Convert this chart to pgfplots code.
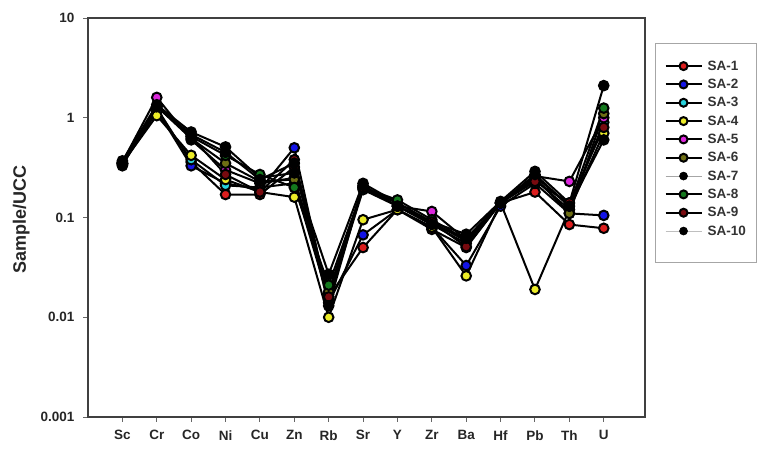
\documentclass[border=0pt]{standalone}
\usepackage{pgfplots}
\pgfplotsset{compat=1.18}
\usepackage{pgfplotstable}
\usepackage{fontspec}
\setmainfont{Liberation Sans}
\definecolor{olivec}{RGB}{110,110,20}
\definecolor{darkredc}{RGB}{120,10,15}
\definecolor{greenc}{RGB}{20,120,30}
\definecolor{cyanc}{RGB}{40,210,220}
\definecolor{yellowc}{RGB}{235,235,40}
\definecolor{magc}{RGB}{220,40,220}
\definecolor{redc}{RGB}{220,30,30}
\definecolor{bluec}{RGB}{20,20,230}
\pgfplotstableread{
x  s1    s2    s3    s4    s5    s6    s7    s8    s9    s10
0  0.35  0.35  0.34  0.35  0.36  0.35  0.37  0.35  0.34  0.33
1  1.25  1.20  1.15  1.05  1.60  1.30  1.35  1.30  1.30  1.30
2  0.36  0.33  0.38  0.42  0.60  0.62  0.72  0.65  0.65  0.68
3  0.17  0.22  0.21  0.24  0.30  0.35  0.51  0.42  0.27  0.45
4  0.17  0.19  0.20  0.18  0.22  0.23  0.25  0.27  0.18  0.24
5  0.32  0.50  0.22  0.16  0.25  0.24  0.28  0.20  0.38  0.35
6  0.016 0.014 0.015 0.010 0.017 0.018 0.027 0.021 0.016 0.013
7  0.050 0.067 0.19  0.095 0.20  0.20  0.22  0.20  0.20  0.21
8  0.12  0.12  0.13  0.12  0.13  0.14  0.14  0.15  0.13  0.13
9  0.076 0.080 0.085 0.080 0.115 0.090 0.090 0.095 0.090 0.085
10 0.050 0.033 0.055 0.026 0.060 0.058 0.068 0.060 0.051 0.062
11 0.14  0.13  0.14  0.14  0.14  0.14  0.145 0.14  0.14  0.14
12 0.18  0.22  0.24  0.019 0.26  0.25  0.29  0.26  0.23  0.27
13 0.085 0.11  0.12  0.12  0.23  0.11  0.14  0.13  0.14  0.13
14 0.078 0.105 0.90  0.70  1.00  1.10  2.10  1.25  0.80  0.60
}\data
\begin{document}
\begin{tikzpicture}
\useasboundingbox (0pt,0pt) rectangle (759pt,448pt);
\begin{axis}[
  at={(88pt,31pt)}, anchor=south west,
  scale only axis, width=557pt, height=399pt,
  ymode=log, ymin=0.001, ymax=10,
  xmin=-1, xmax=15.2,
  xtick pos=bottom, ytick pos=left,
  axis line style={line width=1.6pt, black!75},
  tick style={line width=1pt, black!60},
  tick align=outside, major tick length=5pt,
  yminorticks=false,
  xtick={0,...,14},
  xticklabels={Sc,Cr,Co,Ni,Cu,Zn,Rb,Sr,Y,Zr,Ba,Hf,Pb,Th,U},
  ytick={0.001,0.01,0.1,1,10},
  yticklabels={0.001,0.01,0.1,1,10},
  /pgf/number format/assume math mode=true,
  tick label style={font=\fontsize{13.5}{15}\selectfont\bfseries, black!85},
  xticklabel style={yshift=-5pt},
  yticklabel style={xshift=-5pt},
  ylabel={Sample/UCC},
  ylabel style={font=\fontsize{18}{20}\selectfont\bfseries, black!85, at={(axis description cs:-0.12,0.494)}, anchor=center},
  every axis plot/.append style={line width=2pt, black, mark=*, mark size=4.8pt, mark options={line width=0.6pt, draw=black}},
  legend style={at={(axis description cs:1.018,0.937)}, anchor=north west,
    draw=gray!70, line width=1pt,
    font=\fontsize{13.5}{15}\selectfont\bfseries, text=black!80, row sep=3.4pt,
    column sep=3pt,
    inner xsep=9pt, inner ysep=15pt},
  legend cell align=left,
  legend image code/.code={
    \draw[mark repeat=2,mark phase=2] plot coordinates {(0pt,0pt) (18pt,0pt) (36pt,0pt)};},
  legend image post style={mark size=4pt},
  clip=false,
]
\addplot[mark options={fill=redc}] table[x=x,y=s1]{\data}; \addlegendentry{SA-1}
\addplot[mark options={fill=bluec}] table[x=x,y=s2]{\data}; \addlegendentry{SA-2}
\addplot[mark options={fill=cyanc}] table[x=x,y=s3]{\data}; \addlegendentry{SA-3}
\addplot[mark options={fill=yellowc}] table[x=x,y=s4]{\data}; \addlegendentry{SA-4}
\addplot[mark options={fill=magc}] table[x=x,y=s5]{\data}; \addlegendentry{SA-5}
\addplot[mark options={fill=olivec}] table[x=x,y=s6]{\data}; \addlegendentry{SA-6}
\addplot[forget plot, mark options={fill=black}] table[x=x,y=s7]{\data};
\addlegendimage{line width=1pt, gray!70, mark=*, mark options={fill=black, draw=black, line width=0.6pt}}
\addlegendentry{SA-7}
\addplot[mark options={fill=greenc}] table[x=x,y=s8]{\data}; \addlegendentry{SA-8}
\addplot[mark options={fill=darkredc}] table[x=x,y=s9]{\data}; \addlegendentry{SA-9}
\addplot[forget plot, mark options={fill=black}] table[x=x,y=s10]{\data};
\addlegendimage{line width=1pt, gray!50, mark=*, mark options={fill=black, draw=black, line width=0.6pt}}
\addlegendentry{SA-10}
\addlegendimage{empty legend}\addlegendentry{}
\end{axis}
\end{tikzpicture}
\end{document}
